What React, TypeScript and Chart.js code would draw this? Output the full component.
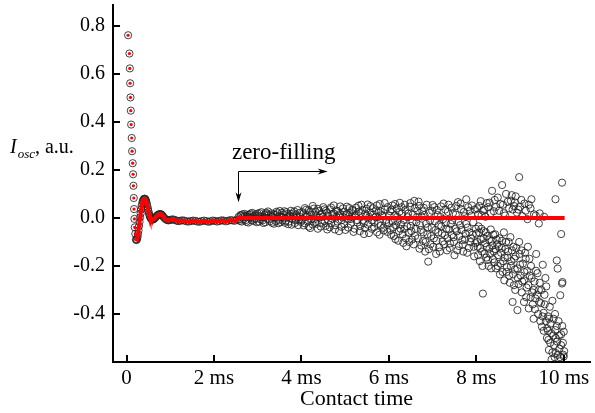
import React, { useEffect, useRef } from 'react';
import { Chart, registerables } from 'chart.js';

Chart.register(...registerables);

// ---- data (time in ms, signal in a.u.) ----
const decayPoints: [number, number][] = [
  [0.036, 0.761], [0.066, 0.685], [0.075, 0.623], [0.082, 0.561], [0.09, 0.502], [0.097, 0.447],
  [0.105, 0.389], [0.118, 0.333], [0.127, 0.278], [0.141, 0.228], [0.15, 0.182], [0.158, 0.134],
  [0.165, 0.083], [0.172, 0.037], [0.18, -0.004], [0.187, -0.039], [0.2, -0.066], [0.215, -0.09],
];

const oscPoints: [number, number][] = [
  [0.226, -0.092], [0.238, -0.089], [0.25, -0.081], [0.262, -0.068], [0.274, -0.052], [0.286, -0.034],
  [0.298, -0.016], [0.31, 0.002], [0.322, 0.019], [0.334, 0.035], [0.346, 0.049], [0.358, 0.06],
  [0.37, 0.069], [0.382, 0.075], [0.394, 0.078], [0.406, 0.08], [0.418, 0.08], [0.43, 0.078],
  [0.442, 0.073], [0.454, 0.066], [0.466, 0.057], [0.478, 0.047], [0.49, 0.037], [0.502, 0.027],
  [0.514, 0.018], [0.526, 0.01], [0.54, 0.003], [0.555, -0.002], [0.57, -0.005], [0.585, -0.007],
  [0.6, -0.007], [0.62, -0.005], [0.64, -0.002], [0.66, 0.002], [0.68, 0.006], [0.7, 0.01],
  [0.72, 0.013], [0.74, 0.015], [0.76, 0.016], [0.78, 0.016], [0.8, 0.014], [0.82, 0.01],
  [0.84, 0.005], [0.87, -0.001], [0.9, -0.006], [0.93, -0.009], [0.96, -0.01], [0.99, -0.009],
  [1.02, -0.007], [1.06, -0.006], [1.1, -0.008], [1.14, -0.011], [1.18, -0.013], [1.22, -0.012],
  [1.27, -0.01], [1.32, -0.011], [1.37, -0.014], [1.42, -0.015], [1.47, -0.013], [1.52, -0.011],
  [1.57, -0.012], [1.62, -0.015], [1.67, -0.016], [1.72, -0.013], [1.77, -0.011], [1.82, -0.013],
  [1.87, -0.016], [1.92, -0.014], [1.97, -0.011], [2.02, -0.012], [2.07, -0.015], [2.12, -0.013],
  [2.17, -0.01], [2.22, -0.011], [2.27, -0.014], [2.32, -0.012], [2.37, -0.009], [2.42, -0.01],
  [2.47, -0.012], [2.52, -0.008],
];

const bandEarly: [number, number][] = [
  [2.56, 0.004], [2.59, -0.012], [2.62, 0.01], [2.65, 0.015], [2.68, -0.005], [2.71, 0.008],
  [2.74, -0.016], [2.77, 0.012], [2.8, 0.002], [2.83, 0.018], [2.86, -0.01], [2.89, 0.006],
  [2.92, -0.004], [2.95, 0.016], [2.98, -0.018], [3.01, 0.009], [3.04, 0.02], [3.07, -0.007],
  [3.1, 0.003], [3.13, -0.021], [3.16, 0.014], [3.19, 0.022], [3.22, -0.002], [3.25, 0.011],
  [3.28, -0.014], [3.31, 0.019], [3.34, 0.005], [3.37, -0.024], [3.4, 0.013], [3.43, 0.026],
  [3.46, -0.008], [3.49, 0.007], [3.52, -0.017], [3.55, 0.021], [3.58, 0.001], [3.61, 0.028],
  [3.64, -0.012], [3.67, 0.016], [3.7, -0.026], [3.73, 0.009], [3.76, 0.03], [3.79, -0.004],
  [3.82, 0.019], [3.85, -0.021], [3.88, 0.012], [3.91, 0.033], [3.94, -0.009], [3.97, 0.004],
];

const bandEarlyB: [number, number][] = [
  [2.575, -0.006], [2.605, 0.012], [2.635, -0.015], [2.665, 0.003], [2.695, 0.017], [2.725, -0.009],
  [2.755, 0.006], [2.785, -0.019], [2.815, 0.013], [2.845, 0.001], [2.875, 0.021], [2.905, -0.013],
  [2.935, 0.008], [2.965, -0.002], [2.995, 0.018], [3.025, -0.015], [3.055, 0.006], [3.085, 0.024],
  [3.115, -0.01], [3.145, 0.002], [3.175, -0.018], [3.205, 0.016], [3.235, 0.027], [3.265, -0.006],
  [3.295, 0.009], [3.325, -0.02], [3.355, 0.015], [3.385, 0.001], [3.415, -0.013], [3.445, 0.02],
  [3.475, -0.022], [3.505, 0.029], [3.535, 0.004], [3.565, -0.011], [3.595, 0.014], [3.625, -0.02],
  [3.655, 0.024], [3.685, 0.003], [3.715, -0.015], [3.745, 0.017], [3.775, -0.028], [3.805, 0.007],
  [3.835, 0.027], [3.865, -0.01], [3.895, 0.002], [3.925, -0.03], [3.955, 0.021], [3.985, -0.016],
];

const bandMiddle: [number, number][] = [
  [4.02, 0.024], [4.05, -0.031], [4.08, 0.041], [4.11, 0.006], [4.14, -0.015], [4.17, 0.032],
  [4.2, -0.042], [4.23, 0.013], [4.26, 0.05], [4.29, -0.006], [4.32, 0.027], [4.35, -0.024],
  [4.38, 0.038], [4.41, 0.002], [4.44, -0.036], [4.47, 0.019], [4.5, 0.045], [4.53, -0.013],
  [4.56, 0.03], [4.59, -0.048], [4.62, 0.008], [4.65, 0.036], [4.68, -0.021], [4.71, 0.015],
  [4.74, 0.052], [4.77, -0.03], [4.8, 0.003], [4.83, 0.028], [4.86, -0.055], [4.89, 0.017],
  [4.92, -0.009], [4.95, 0.04], [4.98, -0.026], [5.01, 0.011], [5.04, 0.047], [5.07, -0.04],
  [5.1, 0.021], [5.13, -0.004], [5.16, 0.034], [5.19, -0.058], [5.22, 0.009], [5.25, 0.043],
  [5.28, -0.019], [5.31, 0.026], [5.34, -0.034], [5.37, 0.055], [5.4, -0.011], [5.43, -0.067],
  [5.46, 0.018], [5.49, 0.038], [5.52, -0.028], [5.55, 0.004], [5.58, 0.049], [5.61, -0.045],
  [5.64, 0.014], [5.67, -0.017], [5.7, 0.031], [5.73, -0.06], [5.76, 0.022], [5.79, 0.058],
  [5.82, -0.032], [5.85, 0.007], [5.88, -0.052], [5.91, 0.036], [5.94, -0.008], [5.97, 0.045],
];

const bandMiddleB: [number, number][] = [
  [4.015, -0.008], [4.045, 0.018], [4.075, -0.022], [4.105, 0.034], [4.135, 0.012], [4.165, -0.036],
  [4.195, 0.025], [4.225, -0.004], [4.255, -0.027], [4.285, 0.039], [4.315, -0.016], [4.345, 0.007],
  [4.375, -0.045], [4.405, 0.029], [4.435, 0.015], [4.465, -0.02], [4.495, 0.005], [4.525, 0.036],
  [4.555, -0.033], [4.585, 0.022], [4.615, -0.011], [4.645, -0.039], [4.675, 0.044], [4.705, -0.003],
  [4.735, 0.019], [4.765, -0.048], [4.795, 0.031], [4.825, -0.015], [4.855, 0.01], [4.885, 0.048],
  [4.915, -0.037], [4.945, 0.004], [4.975, 0.026], [5.005, -0.05], [5.035, 0.016], [5.065, -0.006],
  [5.095, 0.041], [5.125, -0.025], [5.155, 0.006], [5.185, 0.029], [5.215, -0.045], [5.245, 0.013],
  [5.275, -0.009], [5.305, 0.051], [5.335, -0.055], [5.365, 0.02], [5.395, 0.033], [5.425, -0.022],
  [5.455, -0.042], [5.485, 0.01], [5.515, 0.056], [5.545, -0.063], [5.575, 0.023], [5.605, -0.01],
  [5.635, 0.041], [5.665, -0.038], [5.695, 0.003], [5.725, 0.052], [5.755, -0.025], [5.785, -0.07],
  [5.815, 0.027], [5.845, 0.012], [5.875, -0.041], [5.905, 0.062], [5.935, -0.02], [5.965, -0.058],
];

const bandLate: [number, number][] = [
  [6.0, -0.021], [6.03, 0.028], [6.05, -0.07], [6.08, 0.052], [6.1, -0.038], [6.13, 0.01],
  [6.15, -0.088], [6.18, 0.04], [6.2, -0.012], [6.23, -0.055], [6.25, 0.063], [6.28, -0.027],
  [6.3, 0.019], [6.33, -0.104], [6.35, -0.046], [6.38, 0.034], [6.4, -0.118], [6.43, 0.003],
  [6.45, -0.062], [6.48, 0.047], [6.5, -0.033], [6.53, -0.09], [6.55, 0.015], [6.58, 0.071],
  [6.6, -0.075], [6.63, -0.018], [6.65, 0.03], [6.68, 0.068], [6.7, -0.128], [6.73, -0.05],
  [6.75, 0.006], [6.78, -0.096], [6.8, 0.042], [6.83, -0.14], [6.85, -0.024], [6.88, -0.068],
  [6.9, -0.182], [6.93, 0.021], [6.95, -0.11], [6.98, -0.041], [7.0, 0.054], [7.03, -0.085],
  [7.05, -0.013], [7.08, -0.15], [7.1, 0.033], [7.13, -0.06], [7.15, -0.122], [7.18, 0.004],
  [7.2, -0.035], [7.23, -0.098], [7.25, 0.06], [7.28, -0.072], [7.3, -0.02], [7.33, -0.135],
  [7.35, 0.025], [7.38, -0.048], [7.4, -0.106], [7.43, 0.043], [7.45, -0.01], [7.48, -0.08],
  [7.5, -0.155], [7.53, 0.014], [7.55, -0.056], [7.58, 0.066], [7.6, -0.117], [7.63, -0.03],
  [7.65, 0.037], [7.68, -0.092], [7.7, -0.14], [7.73, 0.007], [7.75, -0.066], [7.77, 0.078],
  [7.8, -0.04], [7.83, -0.125], [7.85, 0.03], [7.88, -0.085], [7.9, 0.052], [7.93, -0.018],
  [7.95, -0.16], [7.98, -0.105],
];

const bandLateB: [number, number][] = [
  [6.015, 0.01], [6.04, -0.05], [6.065, 0.035], [6.09, -0.015], [6.115, -0.075], [6.14, 0.058],
  [6.165, -0.03], [6.19, 0.005], [6.215, -0.095], [6.24, 0.025], [6.265, -0.045], [6.29, 0.045],
  [6.315, -0.068], [6.34, -0.008], [6.365, 0.055], [6.39, -0.085], [6.415, -0.035], [6.44, 0.018],
  [6.465, -0.1], [6.49, 0.062], [6.515, -0.055], [6.54, -0.015], [6.565, -0.11], [6.59, 0.04],
  [6.615, -0.045], [6.64, 0.003], [6.665, -0.085], [6.69, 0.05], [6.715, -0.03], [6.74, -0.115],
  [6.765, 0.028], [6.79, -0.06], [6.815, 0.012], [6.84, -0.1], [6.865, 0.055], [6.89, -0.04],
  [6.915, -0.13], [6.94, -0.01], [6.965, -0.075], [6.99, 0.03], [7.015, -0.12], [7.04, 0.045],
  [7.065, -0.05], [7.09, -0.095], [7.115, 0.012], [7.14, -0.03], [7.165, -0.14], [7.19, 0.048],
  [7.215, -0.065], [7.24, -0.005], [7.265, -0.11], [7.29, 0.035], [7.315, -0.045], [7.34, -0.085],
  [7.365, 0.055], [7.39, -0.125], [7.415, -0.025], [7.44, -0.07], [7.465, 0.02], [7.49, -0.1],
  [7.515, -0.045], [7.54, 0.05], [7.565, -0.135], [7.59, -0.015], [7.615, -0.075], [7.64, 0.06],
  [7.665, -0.05], [7.69, -0.11], [7.715, 0.025], [7.74, -0.09], [7.765, -0.025], [7.79, -0.145],
  [7.815, 0.045], [7.84, -0.06], [7.865, -0.1], [7.89, 0.01], [7.915, -0.07], [7.94, -0.12],
  [7.965, 0.035], [7.99, -0.045],
];

const upperBranch: [number, number][] = [
  [8.02, 0.04], [8.07, 0.05], [8.12, 0.012], [8.18, 0.035], [8.24, 0.062], [8.3, 0.064],
  [8.36, 0.113], [8.4, 0.028], [8.45, 0.046], [8.49, 0.085], [8.55, 0.058], [8.59, 0.137],
  [8.63, 0.02], [8.68, 0.1], [8.72, 0.068], [8.79, 0.072], [8.83, 0.035], [8.86, 0.05],
  [8.9, 0.09], [8.93, 0.022], [8.98, 0.17], [9.0, 0.046], [9.05, 0.008], [9.1, 0.06],
  [9.17, -0.005], [9.24, 0.04], [9.26, 0.078], [9.32, 0.015], [9.43, -0.023], [9.45, 0.019],
  [9.55, 0.005], [9.81, 0.078], [9.94, -0.067], [9.96, 0.147],
];

const upperBranchB: [number, number][] = [
  [8.04, 0.015], [8.1, 0.07], [8.15, 0.03], [8.21, 0.005], [8.27, 0.045], [8.33, 0.02],
  [8.42, 0.075], [8.52, 0.03], [8.61, 0.055], [8.66, 0.01], [8.75, 0.04], [8.81, 0.095],
  [8.88, 0.065], [8.96, 0.035], [9.03, 0.075], [9.13, 0.03], [9.2, 0.055], [9.36, 0.01],
];

const lowerBranch: [number, number][] = [
  [8.0, -0.065], [8.03, -0.12], [8.05, -0.035], [8.08, -0.18], [8.1, -0.09], [8.13, -0.14],
  [8.15, -0.315], [8.17, -0.055], [8.2, -0.105], [8.23, -0.165], [8.25, -0.075], [8.28, -0.2],
  [8.3, -0.128], [8.33, -0.048], [8.35, -0.095], [8.38, -0.172], [8.4, -0.14], [8.43, -0.068],
  [8.45, -0.21], [8.48, -0.11], [8.5, -0.155], [8.53, -0.085], [8.55, -0.19], [8.58, -0.125],
  [8.6, -0.225], [8.63, -0.06], [8.65, -0.165], [8.68, -0.1], [8.7, -0.205], [8.73, -0.14],
  [8.75, -0.24], [8.78, -0.08], [8.8, -0.18], [8.83, -0.35], [8.85, -0.12], [8.86, -0.28],
  [8.88, -0.215], [8.9, -0.16], [8.94, -0.384], [8.95, -0.25], [8.98, -0.1], [9.0, -0.195],
  [9.03, -0.135], [9.05, -0.265], [9.09, -0.35], [9.1, -0.225], [9.13, -0.17], [9.15, -0.29],
  [9.18, -0.12], [9.2, -0.377], [9.22, -0.24], [9.25, -0.2], [9.28, -0.31], [9.31, -0.42],
  [9.33, -0.265], [9.35, -0.335], [9.37, -0.15], [9.4, -0.23], [9.43, -0.3], [9.45, -0.27],
  [9.48, -0.355], [9.5, -0.453], [9.52, -0.195], [9.54, -0.395], [9.56, -0.32], [9.58, -0.25],
  [9.6, -0.285], [9.62, -0.46], [9.64, -0.41], [9.65, -0.508], [9.66, -0.55], [9.68, -0.37],
  [9.7, -0.44], [9.72, -0.59], [9.74, -0.345], [9.76, -0.49], [9.78, -0.53], [9.8, -0.4],
  [9.81, -0.467], [9.82, -0.563], [9.84, -0.177], [9.85, -0.515], [9.86, -0.211], [9.88, -0.43],
  [9.9, -0.545], [9.92, -0.322], [9.94, -0.485], [9.96, -0.273], [9.97, -0.267], [9.98, -0.52],
  [10.0, -0.474], [10.0, -0.577], [10.01, -0.555],
];

const lowerBranchB: [number, number][] = [
  [8.015, -0.1], [8.04, -0.155], [8.065, -0.06], [8.09, -0.125], [8.115, -0.045], [8.14, -0.2],
  [8.165, -0.085], [8.19, -0.15], [8.215, -0.06], [8.24, -0.12], [8.265, -0.175], [8.29, -0.09],
  [8.315, -0.15], [8.34, -0.21], [8.365, -0.115], [8.39, -0.07], [8.415, -0.185], [8.44, -0.13],
  [8.465, -0.09], [8.49, -0.2], [8.515, -0.12], [8.54, -0.235], [8.565, -0.145], [8.59, -0.095],
  [8.615, -0.18], [8.64, -0.26], [8.665, -0.13], [8.69, -0.225], [8.715, -0.165], [8.74, -0.1],
  [8.765, -0.27], [8.79, -0.2], [8.815, -0.135], [8.84, -0.235], [8.865, -0.17], [8.89, -0.3],
  [8.915, -0.125], [8.94, -0.21], [8.965, -0.275], [8.99, -0.15], [9.015, -0.24], [9.04, -0.31],
  [9.065, -0.19], [9.09, -0.26], [9.115, -0.145], [9.14, -0.33], [9.165, -0.22], [9.19, -0.28],
  [9.215, -0.17], [9.24, -0.33], [9.265, -0.25], [9.29, -0.36], [9.315, -0.3], [9.34, -0.38],
  [9.365, -0.22], [9.39, -0.32], [9.415, -0.4], [9.44, -0.35], [9.465, -0.43], [9.49, -0.3],
  [9.515, -0.41], [9.54, -0.47], [9.565, -0.36], [9.59, -0.43], [9.615, -0.5], [9.64, -0.47],
  [9.665, -0.42], [9.69, -0.52], [9.715, -0.48], [9.74, -0.56], [9.765, -0.42], [9.79, -0.58],
  [9.815, -0.5], [9.84, -0.45], [9.865, -0.57], [9.89, -0.49], [9.915, -0.58], [9.94, -0.53],
  [9.965, -0.45], [9.99, -0.57],
];

const zeroFill: [number, number][] = [[2.55, 0], [10.02, 0]];

const xTickValues = [0, 2, 4, 6, 8, 10];
const xTickLabels = ['0', '2 ms', '4 ms', '6 ms', '8 ms', '10 ms'];
const yTickValues = [-0.4, -0.2, 0, 0.2, 0.4, 0.6, 0.8];
const yTickLabels = ['-0.4', '-0.2', '0.0', '0.2', '0.4', '0.6', '0.8'];
const xRange = [-0.31, 10.6];
const yRange = [-0.6, 0.887];

// annotation anchors in data units
const arrowCorner = [2.55, 0.196];
const arrowRightEnd = 4.6;
const arrowDownEnd = 0.065;
const annotationText = 'zero-filling';
const annotationAnchor = [2.41, 0.245];

const SERIF = '"Liberation Serif", "Times New Roman", serif';

const toXY = (arr: [number, number][]) => arr.map(([x, y]) => ({ x, y }));

const overlayPlugin = {
  id: 'overlay',
  afterDraw(chart: any) {
    const { ctx, chartArea, scales } = chart;
    const xs = scales.x;
    const ys = scales.y;
    ctx.save();
    // inward tick marks
    ctx.strokeStyle = '#000';
    ctx.lineWidth = 2;
    xTickValues.forEach((v) => {
      const px = Math.round(xs.getPixelForValue(v));
      ctx.beginPath();
      ctx.moveTo(px, chartArea.bottom);
      ctx.lineTo(px, chartArea.bottom - 7);
      ctx.stroke();
    });
    yTickValues.forEach((v) => {
      const py = Math.round(ys.getPixelForValue(v));
      ctx.beginPath();
      ctx.moveTo(chartArea.left, py);
      ctx.lineTo(chartArea.left + 7, py);
      ctx.stroke();
    });

    // y-axis title: I_osc, a.u.
    ctx.fillStyle = '#000';
    ctx.textBaseline = 'alphabetic';
    ctx.textAlign = 'left';
    let x = 10;
    const base = 153;
    ctx.font = `italic 20px ${SERIF}`;
    ctx.fillText('I', x, base);
    x += ctx.measureText('I').width + 1;
    ctx.font = `italic 13px ${SERIF}`;
    ctx.fillText('osc', x, base + 5);
    x += ctx.measureText('osc').width;
    ctx.font = `20px ${SERIF}`;
    ctx.fillText(', a.u.', x, base);

    // x-axis title
    ctx.font = `22px ${SERIF}`;
    ctx.textAlign = 'center';
    ctx.fillText('Contact time', (chartArea.left + chartArea.right) / 2 + 5, 405);

    // annotation
    ctx.textAlign = 'left';
    ctx.font = `23px ${SERIF}`;
    ctx.fillText(annotationText, xs.getPixelForValue(annotationAnchor[0]), ys.getPixelForValue(annotationAnchor[1]));

    const cx = Math.round(xs.getPixelForValue(arrowCorner[0])) + 0.5;
    const cy = Math.round(ys.getPixelForValue(arrowCorner[1])) + 0.5;
    const rx = xs.getPixelForValue(arrowRightEnd);
    const dy = ys.getPixelForValue(arrowDownEnd);
    ctx.lineWidth = 1;
    ctx.beginPath();
    ctx.moveTo(rx - 6, cy);
    ctx.lineTo(cx, cy);
    ctx.lineTo(cx, dy - 6);
    ctx.stroke();
    ctx.beginPath();
    ctx.moveTo(rx, cy);
    ctx.lineTo(rx - 10, cy - 3);
    ctx.lineTo(rx - 7, cy);
    ctx.lineTo(rx - 10, cy + 3);
    ctx.closePath();
    ctx.fill();
    ctx.beginPath();
    ctx.moveTo(cx, dy);
    ctx.lineTo(cx - 3, dy - 10);
    ctx.lineTo(cx, dy - 7);
    ctx.lineTo(cx + 3, dy - 10);
    ctx.closePath();
    ctx.fill();
    ctx.restore();
  },
};

export default function App() {
  const ref = useRef<HTMLCanvasElement | null>(null);

  useEffect(() => {
    if (!ref.current) return;
    const allCircles = [
      ...decayPoints, ...oscPoints, ...bandEarly, ...bandEarlyB, ...bandMiddle, ...bandMiddleB,
      ...bandLate, ...bandLateB, ...upperBranch, ...upperBranchB, ...lowerBranch, ...lowerBranchB,
    ];
    const fitLine = [...oscPoints, ...zeroFill];
    const chart = new Chart(ref.current, {
      type: 'scatter',
      data: {
        datasets: [
          {
            label: 'fit',
            data: toXY(fitLine),
            showLine: true,
            borderColor: '#ff0000',
            borderWidth: 4,
            pointRadius: 0,
            order: 0,
          },
          {
            label: 'fit points',
            data: toXY(decayPoints),
            pointRadius: 1.6,
            pointBackgroundColor: '#ff0000',
            pointBorderWidth: 0,
            borderColor: '#ff0000',
            order: 1,
          },
          {
            label: 'data',
            data: toXY(allCircles),
            pointRadius: 3.6,
            pointBackgroundColor: 'rgba(0,0,0,0)',
            pointBorderColor: 'rgba(35,35,35,0.85)',
            pointBorderWidth: 1,
            order: 2,
          },
        ],
      },
      options: {
        responsive: false,
        animation: false,
        devicePixelRatio: 1,
        layout: { padding: { top: 3, right: 0, left: 0, bottom: 0 } },
        plugins: { legend: { display: false }, tooltip: { enabled: false } },
        scales: {
          x: {
            type: 'linear',
            min: xRange[0],
            max: xRange[1],
            grid: { display: false, drawTicks: false },
            border: { display: true, color: '#000', width: 2 },
            afterBuildTicks: (s: any) => {
              s.ticks = xTickValues.map((v) => ({ value: v }));
            },
            afterFit: (s: any) => {
              s.height = 51;
              s.paddingLeft = 0;
              s.paddingRight = 0;
              s.paddingTop = 0;
              s.paddingBottom = 0;
            },
            ticks: {
              padding: 4,
              color: '#000',
              font: { family: SERIF, size: 21 },
              maxRotation: 0,
              callback: (v: any) => xTickLabels[xTickValues.indexOf(Number(v))] ?? '',
            },
          },
          y: {
            type: 'linear',
            min: yRange[0],
            max: yRange[1],
            grid: { display: false, drawTicks: false },
            border: { display: true, color: '#000', width: 2 },
            afterBuildTicks: (s: any) => {
              s.ticks = yTickValues.map((v) => ({ value: v }));
            },
            afterFit: (s: any) => {
              s.width = 113;
              s.paddingLeft = 0;
              s.paddingRight = 0;
              s.paddingTop = 0;
              s.paddingBottom = 0;
            },
            ticks: {
              padding: 8,
              color: '#000',
              font: { family: SERIF, size: 20 },
              callback: (v: any) => {
                const i = yTickValues.findIndex((t) => Math.abs(t - Number(v)) < 1e-9);
                return i >= 0 ? yTickLabels[i] : '';
              },
            },
          },
        },
      },
      plugins: [overlayPlugin],
    });
    return () => chart.destroy();
  }, []);

  return (
    <div style={{ position: 'fixed', left: 0, top: 0, width: 595, height: 413, background: '#fff' }}>
      <canvas ref={ref} width={595} height={413} style={{ width: 595, height: 413, display: 'block' }} />
    </div>
  );
}
